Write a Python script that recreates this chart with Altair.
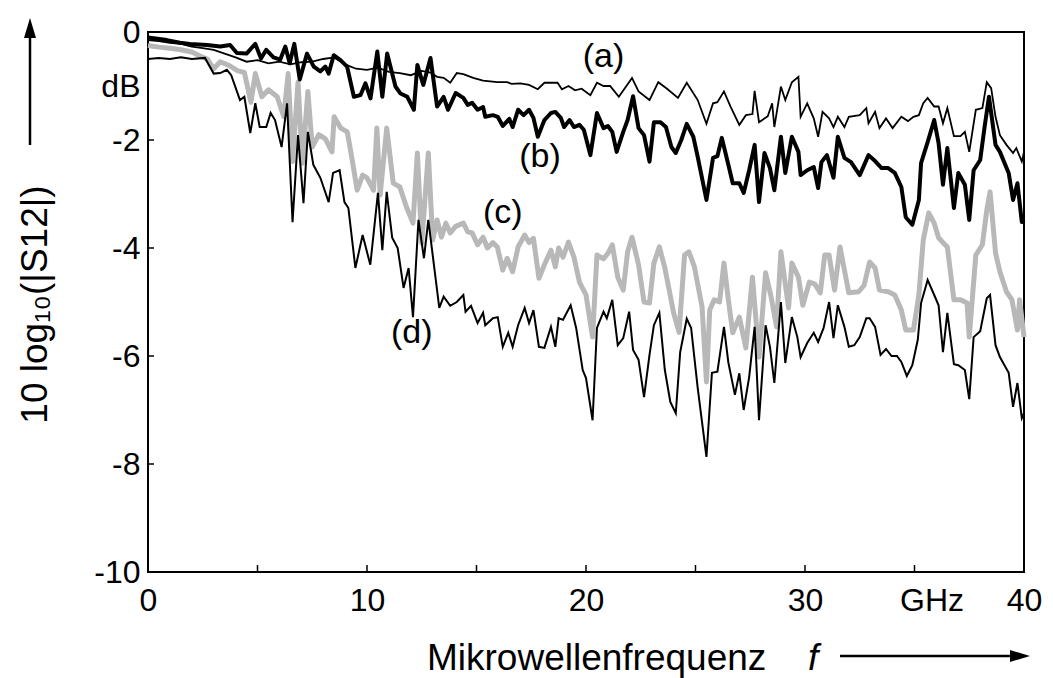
import altair as alt
import pandas as pd

# ---- series (a): thin black line ----
a_f = [0, 0.5, 1.0, 1.5, 2.0, 2.5, 3.0, 3.5, 4.0, 4.5, 5.0, 5.5, 6.0, 6.5, 7.0, 7.5, 8.0, 8.5, 9.0, 9.5,
       10.0, 10.5, 11.0, 11.5, 12.0, 12.5, 12.9, 13.2, 13.5, 13.8, 14.1, 14.4, 14.85, 15.3, 15.95, 16.4,
       16.6, 17.0, 17.4, 17.8, 18.1, 18.7, 18.9, 19.2, 19.5, 19.8, 20.2, 20.5, 20.8, 21.1, 21.5, 22.1,
       22.4, 22.9, 23.3, 23.7, 24.2, 24.6, 25.1, 25.5, 25.8, 26.0, 26.3, 26.6, 27.0, 27.3, 27.6, 27.7,
       27.9, 28.3, 28.5, 28.6, 28.9, 29.1, 29.4, 29.7, 29.8, 30.1, 30.4, 30.6, 30.8, 31.1, 31.3, 31.5,
       31.8, 32.0, 32.5, 32.8, 32.9, 33.2, 33.4, 33.7, 34.0, 34.4, 34.7, 34.95, 35.2, 35.4, 35.6, 35.9,
       36.1, 36.3, 36.5, 36.8, 37.1, 37.3, 37.5, 37.8, 38.1, 38.3, 38.5, 38.7, 38.9, 39.2, 39.5, 39.65,
       39.9, 40.0]
a_db = [-0.15, -0.17, -0.2, -0.22, -0.27, -0.3, -0.33, -0.4, -0.47, -0.55, -0.52, -0.58, -0.55, -0.6,
        -0.56, -0.55, -0.5, -0.47, -0.6, -0.68, -0.7, -0.66, -0.74, -0.76, -0.8, -0.72, -0.75, -0.83,
        -0.85, -0.94, -0.76, -0.78, -0.85, -0.9, -0.93, -0.93, -0.96, -0.95, -0.98, -1.06, -0.94, -0.94,
        -1.06, -1.0, -1.08, -1.05, -1.17, -0.94, -1.0, -1.0, -1.2, -0.85, -1.1, -1.26, -0.93, -1.05,
        -1.22, -0.94, -1.26, -1.7, -1.32, -1.3, -1.1, -1.38, -1.72, -1.54, -1.52, -1.09, -1.67, -1.56,
        -1.32, -1.76, -1.01, -1.26, -0.93, -0.83, -1.57, -1.32, -1.6, -1.94, -1.48, -1.6, -1.76, -1.57,
        -1.76, -1.57, -1.54, -1.41, -1.69, -1.48, -1.78, -1.6, -1.78, -1.57, -1.65, -1.57, -1.54, -1.32,
        -1.22, -1.38, -1.38, -1.69, -1.41, -1.93, -1.93, -1.85, -2.22, -1.44, -1.41, -0.93, -1.04,
        -1.57, -1.91, -2.09, -2.24, -2.15, -2.4, -2.22]

# ---- series (b): thick black line ----
b_f = [0, 0.86, 1.46, 1.92, 2.69, 3.3, 3.75, 4.06, 4.5, 4.9, 5.16, 5.4, 5.73, 6.04, 6.27, 6.47, 6.68,
       6.93, 7.26, 7.57, 7.87, 8.1, 8.25, 8.48, 8.79, 9.09, 9.4, 9.7, 9.93, 10.16, 10.47, 10.7, 10.92,
       11.3, 11.53, 11.84, 12.14, 12.3, 12.57, 12.9, 13.2, 13.5, 13.7, 14.05, 14.4, 14.6, 14.8, 15.05,
       15.3, 15.4, 15.75, 15.97, 16.2, 16.5, 16.65, 16.9, 17.15, 17.4, 17.6, 17.8, 18.1, 18.4, 18.6,
       18.85, 19.0, 19.25, 19.45, 19.7, 19.9, 20.2, 20.5, 20.8, 21.0, 21.2, 21.4, 21.7, 21.9, 22.15,
       22.4, 22.65, 22.9, 23.1, 23.4, 23.65, 23.9, 24.1, 24.35, 24.6, 24.9, 25.1, 25.5, 25.8, 26.0,
       26.2, 26.5, 26.7, 27.0, 27.2, 27.45, 27.7, 27.9, 28.15, 28.4, 28.6, 28.9, 29.1, 29.4, 29.7,
       29.8, 30.1, 30.4, 30.6, 30.75, 31.0, 31.3, 31.5, 31.8, 32.1, 32.5, 32.9, 33.2, 33.5, 33.8,
       34.1, 34.4, 34.6, 34.9, 35.2, 35.3, 35.6, 35.9, 36.1, 36.3, 36.5, 36.8, 37.0, 37.3, 37.5, 37.7,
       38.0, 38.2, 38.4, 38.7, 38.9, 39.3, 39.5, 39.7, 39.9, 40.0]
b_db = [-0.1, -0.15, -0.2, -0.22, -0.24, -0.27, -0.24, -0.39, -0.4, -0.22, -0.49, -0.33, -0.47, -0.51,
        -0.27, -0.58, -0.22, -0.88, -0.4, -0.64, -0.73, -0.64, -0.77, -0.43, -0.52, -0.64, -1.2, -1.17,
        -0.95, -1.23, -0.36, -1.2, -0.4, -1.01, -1.14, -1.2, -1.44, -0.61, -0.98, -0.48, -1.38, -1.2,
        -1.44, -1.13, -1.22, -1.35, -1.31, -1.44, -1.39, -1.57, -1.54, -1.57, -1.74, -1.61, -1.76,
        -1.44, -1.54, -1.44, -1.59, -1.94, -1.63, -1.5, -1.48, -1.59, -1.76, -1.63, -1.76, -1.72,
        -1.81, -2.28, -1.5, -1.78, -1.74, -1.85, -2.22, -1.85, -1.63, -1.19, -1.78, -1.91, -2.4, -1.67,
        -1.67, -1.76, -2.13, -2.24, -2.0, -1.7, -1.94, -2.31, -3.11, -2.33, -2.3, -1.96, -2.46, -2.8,
        -2.8, -2.98, -2.56, -2.09, -3.15, -2.24, -2.52, -2.93, -1.94, -2.61, -1.94, -2.22, -2.65, -2.56,
        -2.5, -2.89, -2.41, -2.28, -2.7, -1.94, -2.33, -2.41, -2.65, -2.28, -2.39, -2.52, -2.52, -2.61,
        -2.87, -3.43, -3.57, -3.11, -2.43, -2.04, -1.63, -2.06, -2.83, -2.15, -3.26, -2.61, -2.83,
        -3.48, -2.56, -2.37, -1.76, -1.2, -2.09, -2.22, -2.61, -3.11, -2.8, -3.52, -3.48]

# ---- series (c): grey stippled line ----
c_f = [0, 0.5, 1.0, 1.5, 2.0, 2.4, 2.7, 3.0, 3.3, 3.7, 4.1, 4.4, 4.7, 4.9, 5.2, 5.5, 5.9, 6.2, 6.4, 6.6,
       6.85, 7.05, 7.3, 7.5, 7.8, 8.1, 8.4, 8.5, 8.8, 9.1, 9.3, 9.55, 9.8, 10.0, 10.3, 10.45, 10.6, 10.9,
       11.2, 11.5, 11.8, 12.1, 12.3, 12.5, 12.8, 13.0, 13.2, 13.4, 13.6, 13.8, 14.05, 14.4, 14.6, 14.8,
       15.05, 15.3, 15.5, 15.75, 15.95, 16.2, 16.4, 16.65, 16.9, 17.2, 17.4, 17.6, 17.85, 18.1, 18.4,
       18.6, 18.75, 18.95, 19.2, 19.45, 19.7, 20.0, 20.3, 20.5, 20.8, 21.0, 21.2, 21.45, 21.7, 21.9,
       22.1, 22.4, 22.65, 22.9, 23.1, 23.35, 23.6, 23.8, 24.0, 24.25, 24.5, 24.7, 24.95, 25.3, 25.5,
       25.65, 25.85, 26.1, 26.3, 26.5, 26.7, 27.0, 27.3, 27.6, 27.9, 28.2, 28.45, 28.7, 28.9, 29.25,
       29.4, 29.7, 29.9, 30.2, 30.45, 30.7, 30.9, 31.1, 31.35, 31.6, 31.8, 32.0, 32.45, 32.7, 32.95,
       33.2, 33.4, 33.8, 34.1, 34.4, 34.6, 34.95, 35.2, 35.4, 35.65, 35.9, 36.1, 36.3, 36.5, 36.8,
       37.1, 37.4, 37.5, 37.8, 38.1, 38.3, 38.45, 38.7, 38.9, 39.2, 39.45, 39.7, 39.8, 40.0]
c_db = [-0.25, -0.28, -0.3, -0.33, -0.37, -0.45, -0.5, -0.68, -0.55, -0.62, -0.72, -0.75, -1.3, -0.77,
        -1.2, -1.07, -1.2, -1.57, -0.77, -2.4, -0.93, -2.43, -1.1, -2.13, -1.9, -1.98, -2.22, -1.57,
        -1.78, -1.85, -2.31, -2.93, -2.65, -2.7, -2.93, -1.78, -3.02, -1.78, -2.8, -2.87, -3.24, -3.54,
        -2.24, -3.91, -2.24, -3.85, -3.48, -3.8, -3.54, -3.72, -3.6, -3.54, -3.7, -3.72, -3.94, -3.8,
        -4.0, -3.9, -3.98, -4.41, -4.19, -4.44, -3.98, -3.76, -3.9, -3.82, -4.56, -4.31, -4.04, -4.35,
        -4.0, -4.17, -3.89, -4.17, -4.63, -4.87, -5.65, -4.13, -4.2, -4.1, -3.94, -4.54, -4.78, -4.07,
        -3.8, -4.31, -5.0, -5.02, -4.28, -3.98, -4.37, -4.78, -5.2, -5.56, -4.13, -4.07, -4.35, -5.09,
        -6.48, -5.15, -4.96, -5.0, -4.28, -4.96, -5.57, -5.28, -5.85, -4.54, -6.02, -4.46, -4.9, -5.46,
        -4.07, -5.11, -4.28, -4.54, -5.06, -4.63, -4.67, -4.83, -4.13, -4.13, -4.78, -3.98, -4.41,
        -4.83, -4.81, -4.69, -4.26, -4.37, -4.78, -4.81, -4.87, -5.15, -5.52, -5.52, -4.87, -3.85,
        -3.35, -3.54, -3.81, -3.9, -3.98, -4.96, -4.96, -5.02, -5.65, -4.13, -3.94, -3.3, -2.96, -4.09,
        -4.44, -4.81, -4.96, -5.52, -4.96, -5.65]

# ---- series (d): thin black lower line ----
d_f = [0, 0.5, 1.0, 1.5, 2.0, 2.6, 3.0, 3.3, 3.6, 3.8, 4.2, 4.4, 4.67, 4.9, 5.1, 5.4, 5.6, 5.8, 6.1,
       6.35, 6.6, 6.85, 7.1, 7.3, 7.55, 7.87, 8.25, 8.45, 8.75, 8.97, 9.15, 9.47, 9.8, 10.15, 10.5,
       10.7, 10.9, 11.15, 11.4, 11.67, 11.9, 12.1, 12.35, 12.6, 12.8, 13.3, 13.5, 13.8, 14.1, 14.4,
       14.5, 14.75, 15.05, 15.3, 15.4, 15.75, 15.97, 16.2, 16.45, 16.65, 16.9, 17.2, 17.4, 17.6, 17.85,
       18.1, 18.4, 18.6, 18.75, 18.95, 19.3, 19.55, 19.85, 20.0, 20.3, 20.5, 20.8, 20.95, 21.2, 21.45,
       21.7, 21.97, 22.15, 22.4, 22.65, 22.9, 23.1, 23.35, 23.6, 23.85, 24.1, 24.3, 24.6, 24.8, 25.1,
       25.5, 25.75, 26.0, 26.3, 26.5, 26.8, 27.0, 27.2, 27.45, 27.7, 27.9, 28.2, 28.4, 28.6, 28.9,
       29.1, 29.4, 29.65, 29.8, 30.1, 30.4, 30.6, 30.85, 31.1, 31.3, 31.5, 31.8, 32.0, 32.25, 32.5,
       32.8, 32.95, 33.2, 33.45, 33.7, 33.95, 34.2, 34.4, 34.65, 34.9, 35.15, 35.3, 35.6, 35.9, 36.1,
       36.3, 36.5, 36.8, 37.0, 37.3, 37.5, 37.7, 38.0, 38.3, 38.45, 38.7, 38.9, 39.3, 39.5, 39.7, 39.9,
       40.0]
d_db = [-0.5, -0.48, -0.5, -0.47, -0.5, -0.48, -0.77, -0.76, -0.7, -0.8, -1.26, -1.2, -1.87, -1.32,
        -1.76, -1.76, -1.5, -1.63, -2.13, -1.32, -3.52, -1.91, -3.17, -1.85, -2.46, -2.7, -3.15, -2.61,
        -2.56, -3.15, -3.26, -4.37, -3.76, -4.31, -2.98, -4.04, -2.96, -3.81, -4.0, -4.74, -4.37, -5.28,
        -3.48, -4.19, -3.48, -5.11, -4.9, -5.07, -5.0, -4.87, -5.18, -5.07, -5.39, -5.2, -5.43, -5.3,
        -5.28, -5.83, -5.57, -5.83, -5.43, -5.11, -5.39, -5.15, -5.83, -5.85, -5.46, -5.83, -5.3, -5.33,
        -5.06, -5.48, -6.26, -6.41, -7.19, -5.48, -5.18, -5.3, -4.96, -5.8, -5.67, -5.18, -5.89, -6.07,
        -6.76, -5.98, -5.43, -5.2, -6.26, -6.85, -7.06, -5.93, -5.31, -5.48, -6.59, -7.87, -6.31, -6.29,
        -5.46, -6.12, -6.72, -6.32, -7.0, -6.39, -5.46, -7.19, -5.43, -5.83, -6.5, -5.0, -6.13, -5.28,
        -5.65, -6.02, -5.76, -5.57, -5.74, -5.48, -5.0, -5.67, -5.06, -5.46, -5.83, -5.8, -5.65, -5.3,
        -5.3, -5.46, -5.98, -5.87, -6.0, -6.0, -6.11, -6.37, -6.17, -5.7, -5.02, -4.59, -4.87, -5.06,
        -5.93, -5.2, -6.15, -6.17, -6.26, -6.8, -5.65, -5.54, -4.93, -4.87, -5.8, -6.02, -6.31, -6.94,
        -6.5, -7.15, -7.06]

# ---- labels and ticks ----
series_labels = ["(a)", "(b)", "(c)", "(d)"]
series_label_f = [20.8, 17.9, 16.2, 12.04]
series_label_db = [-0.46, -2.31, -3.35, -5.57]
x_label_values = [0, 10, 20, 30, 35, 40]
y_label_values = [0, -1, -2, -4, -6, -8, -10]
x_minor_ticks = [5, 10, 15, 20, 25, 30, 35]
y_minor_ticks = [-2, -4, -6, -8]

FONT = "Liberation Sans"

frames = []
for name, fs, ds in [("a", a_f, a_db), ("b", b_f, b_db), ("c", c_f, c_db), ("d", d_f, d_db)]:
    frames.append(pd.DataFrame({"s": name, "f": fs, "db": ds}))
df = pd.concat(frames, ignore_index=True)

xenc = alt.X("f:Q", scale=alt.Scale(domain=[0, 40], nice=False, zero=False),
             axis=alt.Axis(values=x_label_values, labelFlush=False, labelOverlap=False,
                           labelExpr="datum.value == 35 ? 'GHz' : '' + datum.value",
                           labelOffset={"condition": {"test": "datum.value == 35", "value": 17}, "value": 0},
                           labelPadding=13),
             title=None)
yenc = alt.Y("db:Q", scale=alt.Scale(domain=[-10, 0], nice=False, zero=False),
             axis=alt.Axis(values=y_label_values, labelOverlap=False, labelFlush=False,
                           labelExpr="datum.value == -1 ? 'dB' : '' + datum.value",
                           labelPadding=8,
                           title="10 log\u2081\u2080(|S12|)", titleFontSize=37, titleFont=FONT,
                           titleFontWeight="normal", titleAngle=270, titleX=-113, titleY=272,
                           titleAlign="center", titleBaseline="middle"))

base = alt.Chart(df)
line_c = base.transform_filter(alt.datum.s == "c").mark_line(
    color="#b8b8b8", strokeWidth=5, strokeJoin="round").encode(x=xenc, y=yenc)
line_d = base.transform_filter(alt.datum.s == "d").mark_line(
    color="black", strokeWidth=2).encode(x=xenc, y=yenc)
line_a = base.transform_filter(alt.datum.s == "a").mark_line(
    color="black", strokeWidth=1.8).encode(x=xenc, y=yenc)
line_b = base.transform_filter(alt.datum.s == "b").mark_line(
    color="black", strokeWidth=4, strokeJoin="round").encode(x=xenc, y=yenc)

lab_df = pd.DataFrame({"t": series_labels, "f": series_label_f, "db": series_label_db})
labels = alt.Chart(lab_df).mark_text(font=FONT, fontSize=34, color="black", baseline="middle").encode(
    x="f:Q", y="db:Q", text="t:N")

xt = alt.Chart(pd.DataFrame({"f": x_minor_ticks})).mark_rule(color="black", strokeWidth=1.5).encode(
    x="f:Q", y=alt.value(540), y2=alt.value(533))
yt = alt.Chart(pd.DataFrame({"db": y_minor_ticks})).mark_rule(color="black", strokeWidth=1.5).encode(
    y="db:Q", x=alt.value(0), x2=alt.value(6))

one = alt.Chart(pd.DataFrame({"k": [0]}))
xtitle1 = one.mark_text(text="Mikrowellenfrequenz", font=FONT, fontSize=37, align="left",
                        baseline="alphabetic", color="black").encode(x=alt.value(279), y=alt.value(638))
xtitle2 = one.mark_text(text="f", font=FONT, fontSize=37, fontStyle="italic", align="left",
                        baseline="alphabetic", color="black").encode(x=alt.value(660), y=alt.value(638))
xarrow = one.mark_rule(color="black", strokeWidth=2.5).encode(
    x=alt.value(692), x2=alt.value(868), y=alt.value(624))
xhead = one.mark_point(shape="M1,0L-1,-0.6L-1,0.6Z", filled=True, size=400, color="black", opacity=1).encode(
    x=alt.value(872), y=alt.value(624))
yarrow = one.mark_rule(color="black", strokeWidth=2.5).encode(
    x=alt.value(-118), y=alt.value(113), y2=alt.value(-2))
yhead = one.mark_point(shape="M0,-1L0.6,1L-0.6,1Z", filled=True, size=400, color="black", opacity=1).encode(
    x=alt.value(-118), y=alt.value(-4))

chart = alt.layer(line_c, line_d, line_a, line_b, labels, xt, yt,
                  xtitle1, xtitle2, xarrow, xhead, yarrow, yhead).properties(
    width=876, height=540,
    autosize=alt.AutoSizeParams(type="none"),
    padding={"left": 148, "top": 32, "right": 29, "bottom": 106},
    background="white",
).configure_view(stroke="black", strokeWidth=2).configure_axis(
    grid=False, domain=False, ticks=False, labelFont=FONT, labelFontSize=32, labelColor="black",
    titleColor="black")

chart.save("out.html", embed_options={"renderer": "svg", "actions": False})
